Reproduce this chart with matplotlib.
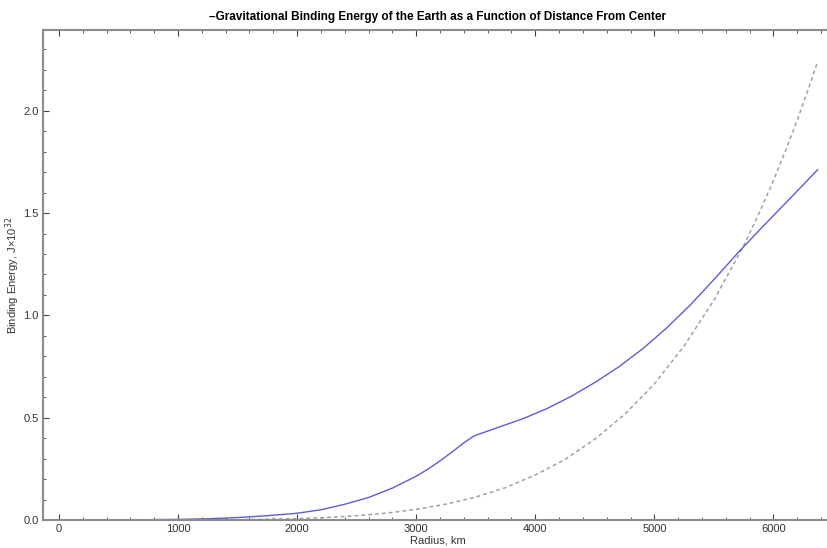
import matplotlib
matplotlib.use('Agg')
from matplotlib import pyplot as plt
import matplotlib.ticker as ticker

plt.rcParams['font.family'] = ['Liberation Sans', 'DejaVu Sans']

# radius (km) and binding energy (J x 10^32)
radius_real = [0, 500, 1000, 1250, 1500, 1750, 2000, 2200, 2400, 2600, 2800, 3000,
               3100, 3200, 3300, 3400, 3485, 3700, 3900, 4100, 4300, 4500, 4700,
               4900, 5100, 5300, 5500, 5700, 5900, 6100, 6371]
energy_real = [0, 0.0003, 0.003, 0.006, 0.012, 0.021, 0.033, 0.050, 0.077, 0.110,
               0.156, 0.214, 0.249, 0.289, 0.332, 0.377, 0.411, 0.455, 0.496, 0.545,
               0.604, 0.672, 0.748, 0.836, 0.937, 1.050, 1.175, 1.305, 1.428, 1.548,
               1.712]

# uniform density comparison (dashed)
radius_unif = [0, 500, 1000, 1500, 2000, 2250, 2500, 2750, 3000, 3250, 3500, 3750,
               4000, 4250, 4500, 4750, 5000, 5250, 5500, 5750, 5875, 6000, 6100,
               6200, 6300, 6371]
energy_unif = [0, 0.00001, 0.0002, 0.0016, 0.0068, 0.0123, 0.021, 0.0336, 0.052,
               0.0774, 0.112, 0.158, 0.220, 0.296, 0.395, 0.516, 0.665, 0.851, 1.074,
               1.341, 1.494, 1.659, 1.803, 1.955, 2.118, 2.24]

fig = plt.figure(figsize=(8.27, 5.48), dpi=100)
ax = fig.add_axes([43 / 827, 28 / 548, 790 / 827, 490 / 548])

ax.plot(radius_unif, energy_unif, color='#a0a0a0', lw=1.1, dashes=(2.5, 2.0))
ax.plot(radius_real, energy_real, color='#5c5cd6', lw=1.0)

ax.set_xlim(-134, 6500)
ax.set_ylim(0, 2.395)

ax.xaxis.set_major_locator(ticker.MultipleLocator(1000))
ax.xaxis.set_minor_locator(ticker.MultipleLocator(200))
ax.yaxis.set_major_locator(ticker.MultipleLocator(0.5))
ax.yaxis.set_minor_locator(ticker.MultipleLocator(0.1))
ax.yaxis.set_major_formatter(ticker.FormatStrFormatter('%.1f'))

ax.tick_params(which='both', direction='in', top=True, right=True,
               color='#444444', labelsize=8, labelcolor='#333333', pad=3)
ax.tick_params(which='major', length=4, width=0.8)
ax.tick_params(which='minor', length=2, width=0.6)
for s in ax.spines.values():
    s.set_color('#8c8c8c')
    s.set_linewidth(1.5)

ax.set_xlabel('Radius, km', fontsize=8, color='#333333', labelpad=1)
ax.set_ylabel('Binding Energy, J\u00d710$^{32}$', fontsize=8, color='#333333', labelpad=1)
ax.set_title('\u2013Gravitational Binding Energy of the Earth as a Function of Distance From Center',
             fontsize=8.5, fontweight='bold', pad=7)

plt.savefig('out.png', dpi=100)
